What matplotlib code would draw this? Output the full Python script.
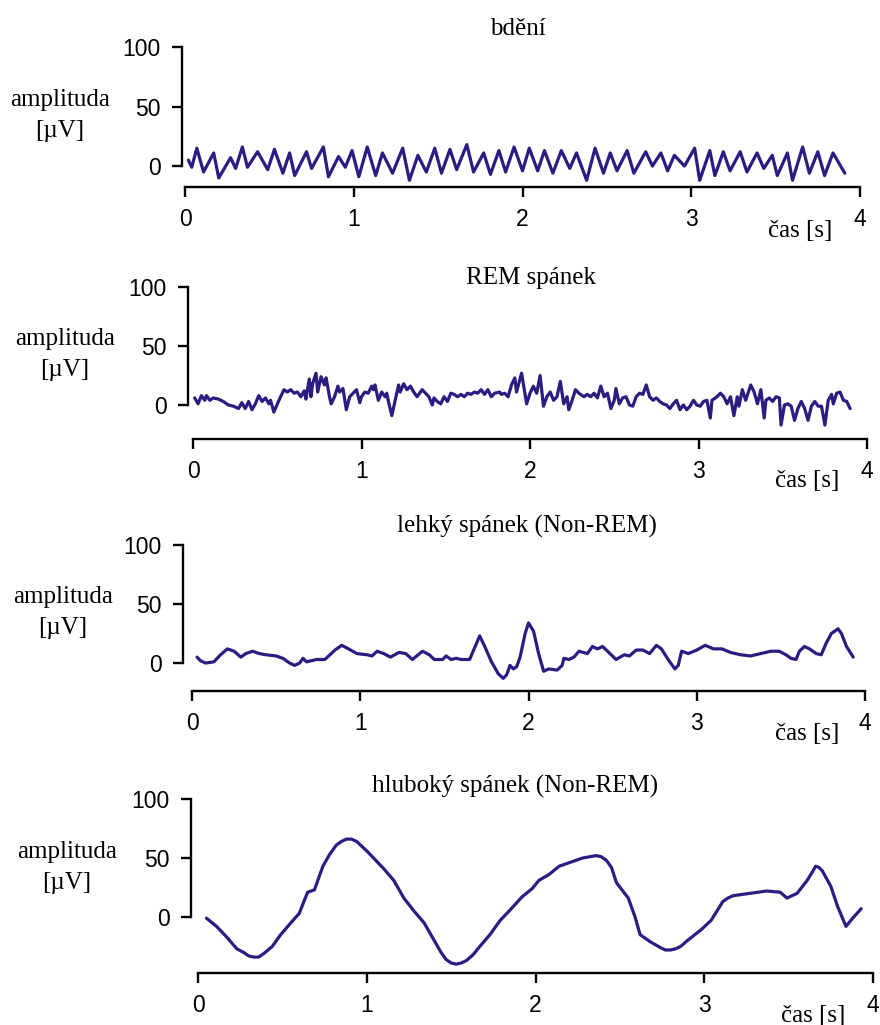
import matplotlib
matplotlib.use("Agg")
import matplotlib.pyplot as plt

# ---------------- data (time [s], amplitude [uV]) ----------------
titles = ["bdění", "REM spánek", "lehký spánek (Non-REM)", "hluboký spánek (Non-REM)"]
x_ticks = [0, 1, 2, 3, 4]
y_ticks = [0, 50, 100]

wake_t = [0.02, 0.04, 0.07, 0.11, 0.17, 0.20, 0.27, 0.30, 0.34, 0.37,
          0.43, 0.49, 0.53, 0.58, 0.62, 0.65, 0.72, 0.75, 0.82, 0.85,
          0.91, 0.95, 0.99, 1.03, 1.08, 1.13, 1.17, 1.23, 1.29, 1.33,
          1.38, 1.43, 1.48, 1.52, 1.57, 1.61, 1.67, 1.71, 1.77, 1.81,
          1.86, 1.90, 1.95, 2.00, 2.04, 2.09, 2.13, 2.18, 2.23, 2.28,
          2.32, 2.38, 2.43, 2.48, 2.52, 2.56, 2.62, 2.66, 2.73, 2.77,
          2.82, 2.86, 2.90, 2.96, 3.02, 3.05, 3.11, 3.14, 3.19, 3.23,
          3.29, 3.33, 3.39, 3.43, 3.48, 3.51, 3.57, 3.60, 3.66, 3.70,
          3.75, 3.79, 3.84, 3.91]
wake_v = [5, -1, 15, -5, 11, -10, 7, -2, 16, -1,
          12, -3, 14, -6, 11, -8, 12, -2, 16, -9,
          8, -1, 13, -9, 16, -8, 11, -6, 15, -12,
          9, -5, 15, -6, 14, -3, 18, -5, 11, -7,
          13, -5, 16, -4, 15, -4, 13, -6, 13, -2,
          11, -12, 15, -6, 11, -4, 13, -6, 12, 0,
          11, -4, 9, 0, 15, -12, 13, -8, 12, -4,
          12, -5, 11, -2, 9, -8, 11, -12, 16, -6,
          12, -8, 11, -6]

rem_t = [0.01, 0.03, 0.05, 0.07, 0.08, 0.10, 0.12, 0.15, 0.18, 0.21,
         0.24, 0.27, 0.29, 0.31, 0.33, 0.35, 0.37, 0.39, 0.41, 0.43,
         0.45, 0.46, 0.48, 0.51, 0.54, 0.56, 0.58, 0.60, 0.62, 0.64,
         0.66, 0.67, 0.69, 0.70, 0.71, 0.73, 0.74, 0.76, 0.78, 0.79,
         0.81, 0.82, 0.84, 0.86, 0.87, 0.89, 0.91, 0.93, 0.95, 0.97,
         0.99, 1.00, 1.02, 1.04, 1.06, 1.07, 1.08, 1.10, 1.12, 1.14,
         1.15, 1.16, 1.18, 1.20, 1.22, 1.23, 1.25, 1.27, 1.29, 1.31,
         1.33, 1.36, 1.38, 1.40, 1.42, 1.43, 1.45, 1.47, 1.49, 1.51,
         1.53, 1.55, 1.57, 1.59, 1.61, 1.63, 1.65, 1.67, 1.69, 1.71,
         1.73, 1.75, 1.77, 1.79, 1.82, 1.83, 1.85, 1.87, 1.89, 1.91,
         1.92, 1.95, 1.98, 2.00, 2.02, 2.04, 2.06, 2.08, 2.10, 2.12,
         2.14, 2.16, 2.18, 2.20, 2.22, 2.23, 2.25, 2.27, 2.29, 2.32,
         2.34, 2.36, 2.38, 2.40, 2.42, 2.44, 2.46, 2.48, 2.50, 2.51,
         2.53, 2.55, 2.57, 2.59, 2.61, 2.63, 2.65, 2.67, 2.69, 2.71,
         2.73, 2.75, 2.77, 2.79, 2.81, 2.83, 2.85, 2.87, 2.89, 2.91,
         2.93, 2.95, 2.97, 2.99, 3.01, 3.03, 3.05, 3.07, 3.08, 3.11,
         3.13, 3.15, 3.17, 3.19, 3.21, 3.23, 3.24, 3.26, 3.28, 3.31,
         3.33, 3.35, 3.37, 3.39, 3.40, 3.42, 3.44, 3.46, 3.48, 3.49,
         3.51, 3.53, 3.55, 3.57, 3.59, 3.61, 3.63, 3.65, 3.67, 3.69,
         3.71, 3.73, 3.75, 3.77, 3.79, 3.80, 3.82, 3.84, 3.86, 3.88,
         3.90]
rem_v = [6, 1, 8, 4, 8, 4, 6, 5, 3, 0,
         -1, -3, 2, -3, 3, -4, 1, 8, 3, 6,
         1, 4, -6, 4, 13, 11, 13, 10, 11, 7,
         12, 5, 22, 7, 18, 27, 11, 24, 17, 23,
         7, 1, 7, 16, 11, 14, -4, 7, 10, 13,
         2, 7, 11, 10, 16, 13, 17, 4, 11, 7,
         10, 3, -9, 4, 17, 11, 18, 13, 16, 11,
         7, 13, 10, 7, 0, 6, 3, 1, 7, 3,
         10, 9, 7, 9, 7, 10, 9, 11, 10, 13,
         9, 13, 7, 10, 11, 9, 10, 7, 17, 23,
         11, 27, 1, 10, 16, 10, 25, -1, 7, 11,
         4, 7, 20, 1, 7, -4, 4, 13, 10, 7,
         9, 7, 10, 6, 16, 7, 10, -3, 4, 14,
         1, 6, 7, 0, -1, 7, 10, 9, 17, 7,
         4, 6, 3, 1, 0, -3, 1, 4, -4, 0,
         -4, -1, 4, 0, -1, 3, 4, -11, 4, 7,
         10, 7, 1, 7, -9, 7, -1, 13, 4, 17,
         11, 1, 13, -11, 4, 6, 3, 7, 6, -17,
         0, 1, -1, -13, -3, 3, -3, -13, -1, 3,
         -1, -1, -17, 4, 9, 1, 10, 11, 4, 3,
         -3]

light_t = [0.03, 0.05, 0.08, 0.13, 0.17, 0.21, 0.25, 0.29, 0.32, 0.36,
           0.40, 0.44, 0.50, 0.54, 0.58, 0.61, 0.64, 0.66, 0.68, 0.71,
           0.74, 0.79, 0.82, 0.85, 0.89, 0.93, 0.98, 1.04, 1.07, 1.10,
           1.14, 1.18, 1.23, 1.27, 1.31, 1.37, 1.41, 1.44, 1.49, 1.51,
           1.54, 1.57, 1.60, 1.65, 1.71, 1.74, 1.78, 1.82, 1.85, 1.87,
           1.89, 1.91, 1.93, 1.95, 1.98, 2.00, 2.03, 2.06, 2.09, 2.12,
           2.17, 2.20, 2.21, 2.24, 2.27, 2.30, 2.35, 2.38, 2.41, 2.44,
           2.47, 2.52, 2.57, 2.60, 2.64, 2.68, 2.72, 2.76, 2.79, 2.83,
           2.87, 2.89, 2.91, 2.95, 3.00, 3.05, 3.10, 3.15, 3.20, 3.26,
           3.32, 3.38, 3.44, 3.49, 3.53, 3.56, 3.59, 3.61, 3.64, 3.67,
           3.71, 3.74, 3.77, 3.80, 3.84, 3.86, 3.89, 3.93]
light_v = [5, 2, 0, 1, 7, 12, 10, 5, 8, 10,
           8, 7, 6, 4, 0, -2, 0, 4, 1, 2,
           3, 3, 7, 11, 15, 12, 8, 7, 6, 10,
           8, 5, 9, 8, 3, 10, 7, 3, 3, 6,
           3, 4, 3, 3, 23, 14, 1, -9, -13, -10,
           -2, -5, -3, 5, 25, 34, 27, 8, -7, -5,
           -6, -2, 4, 3, 5, 10, 8, 14, 12, 14,
           10, 3, 7, 6, 11, 11, 8, 15, 12, 3,
           -5, -2, 10, 8, 11, 15, 12, 12, 9, 7,
           6, 8, 10, 10, 7, 4, 3, 10, 14, 12,
           8, 7, 17, 25, 29, 25, 14, 5]

deep_t = [0.05, 0.11, 0.17, 0.23, 0.27, 0.30, 0.33, 0.36, 0.39, 0.44,
          0.49, 0.55, 0.60, 0.63, 0.65, 0.69, 0.71, 0.74, 0.78, 0.82,
          0.85, 0.88, 0.91, 0.94, 0.97, 1.00, 1.04, 1.10, 1.16, 1.22,
          1.28, 1.34, 1.40, 1.44, 1.47, 1.50, 1.53, 1.56, 1.59, 1.63,
          1.67, 1.73, 1.79, 1.85, 1.92, 1.98, 2.02, 2.08, 2.14, 2.22,
          2.28, 2.32, 2.36, 2.39, 2.42, 2.45, 2.48, 2.55, 2.59, 2.62,
          2.68, 2.74, 2.77, 2.80, 2.83, 2.86, 2.90, 2.98, 3.04, 3.11,
          3.14, 3.17, 3.27, 3.37, 3.45, 3.49, 3.55, 3.61, 3.64, 3.66,
          3.68, 3.70, 3.75, 3.79, 3.84, 3.88, 3.93]
deep_v = [-1, -8, -17, -27, -30, -33, -34, -34, -31, -25,
          -15, -5, 3, 14, 21, 23, 31, 43, 53, 61,
          64, 66, 66, 64, 60, 56, 50, 41, 31, 16,
          5, -5, -20, -30, -36, -39, -40, -39, -37, -32,
          -25, -15, -3, 6, 17, 24, 31, 36, 43, 47,
          50, 51, 52, 51, 48, 42, 29, 16, 0, -15,
          -21, -26, -28, -28, -27, -25, -20, -11, -3, 13,
          16, 18, 20, 22, 21, 16, 20, 31, 38, 43,
          42, 39, 26, 9, -8, -1, 7]

series = [(wake_t, wake_v), (rem_t, rem_v), (light_t, light_v), (deep_t, deep_v)]

# ---------------- layout (pixels) ----------------
W, H = 880, 1025
# x0, x4, y_top(100), y_axis, ymin, spine offset px
axes_px = [(185, 860, 47, 187, -17.6, 3),
           (193, 867, 287, 439, -28.8, 5),
           (192, 865, 545, 691, -23.7, 9),
           (198, 873, 799, 973, -47.5, 7)]
title_px = [(518, 35), (531, 284), (527, 533), (515, 793)]
ylab_px = [(60, 106, 137), (65, 345, 376), (63, 603, 634), (67, 858, 889)]
xlab_px = [(800, 237), (807, 487), (807, 740), (813, 1022)]

LINE = "#2c1c82"
SERIF = ["Liberation Serif", "DejaVu Serif"]
SANS = ["Liberation Sans", "DejaVu Sans"]

fig = plt.figure(figsize=(W / 100, H / 100), dpi=100)

for i, ((t, v), (x0, x4, yt, yb, ymin, off)) in enumerate(zip(series, axes_px)):
    ax = fig.add_axes([x0 / W, 1 - yb / H, (x4 - x0) / W, (yb - yt) / H])
    ax.set_xlim(0, 4)
    ax.set_ylim(ymin, 100)
    ax.plot(t, v, color=LINE, lw=2.3, solid_joinstyle="round",
            solid_capstyle="round", clip_on=False)
    ax.set_facecolor("none")
    for s in ("top", "right"):
        ax.spines[s].set_visible(False)
    ax.spines["left"].set_bounds(0, 100)
    ax.spines["left"].set_position(("outward", off * 0.72))
    ax.spines["bottom"].set_bounds(0, 4)
    for s in ("left", "bottom"):
        ax.spines[s].set_linewidth(1.7)
    ax.set_xticks(x_ticks)
    ax.set_yticks(y_ticks)
    ax.set_xticklabels([str(x) for x in x_ticks], family=SANS)
    ax.set_yticklabels([str(y) for y in y_ticks], family=SANS)
    ax.tick_params(axis="both", direction="out", length=7.2, width=1.7,
                   labelsize=16.5, colors="black")
    ax.tick_params(axis="x", pad=8)
    ax.tick_params(axis="y", pad=8)

    tx, ty = title_px[i]
    fig.text(tx / W, 1 - ty / H, titles[i], ha="center", va="baseline",
             family=SERIF, size=18)
    lx, ly1, ly2 = ylab_px[i]
    fig.text(lx / W, 1 - ly1 / H, "amplituda", ha="center", va="baseline",
             family=SERIF, size=18)
    fig.text(lx / W, 1 - ly2 / H, "[µV]", ha="center", va="baseline",
             family=SERIF, size=18)
    cx, cy = xlab_px[i]
    fig.text(cx / W, 1 - cy / H, "čas [s]", ha="center", va="baseline",
             family=SERIF, size=18)

fig.savefig("out.png", dpi=100, facecolor="white")
